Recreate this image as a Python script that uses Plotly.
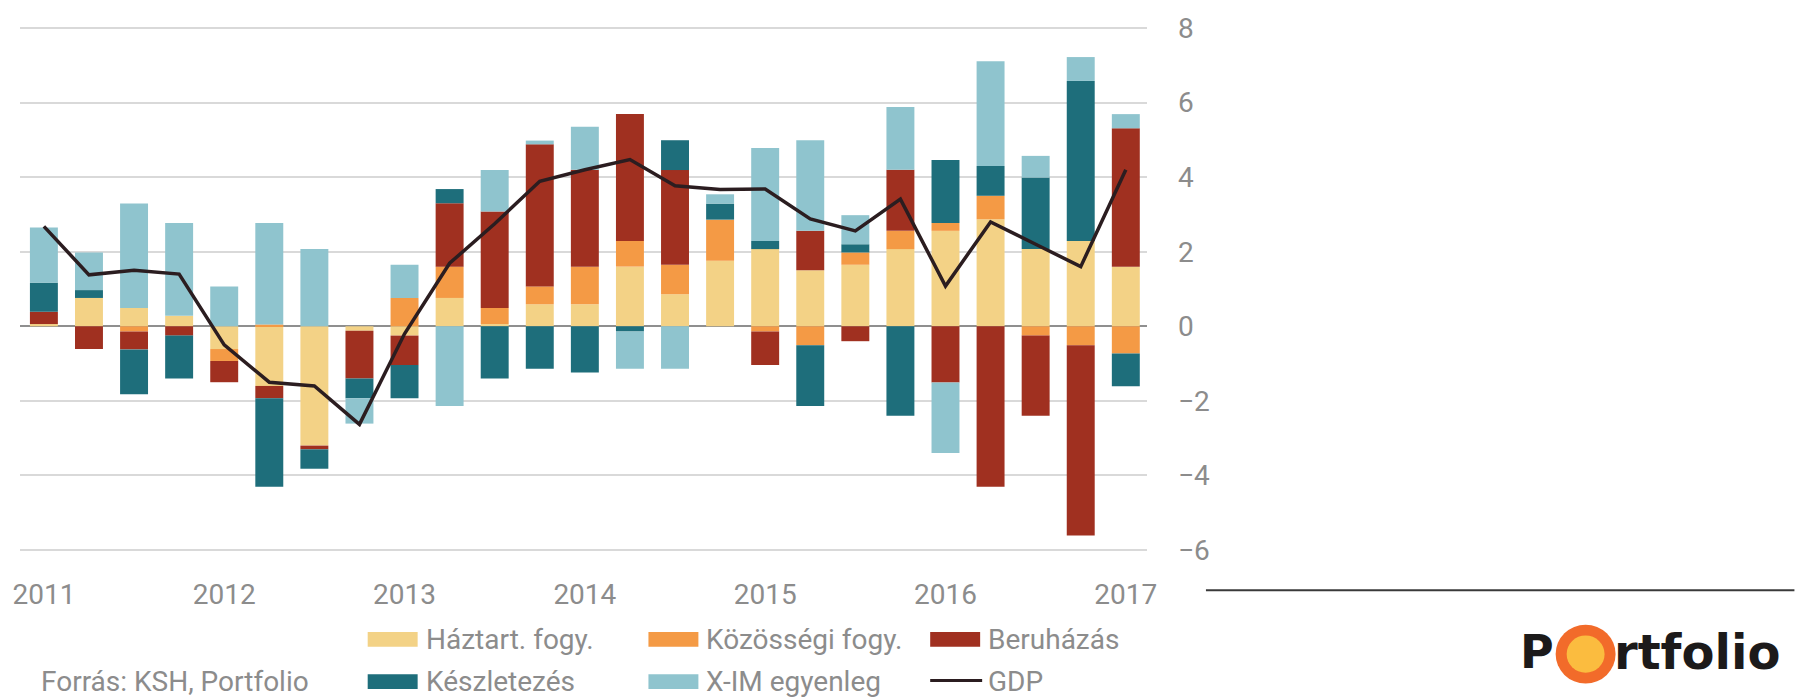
import plotly.graph_objects as go

# quarterly contributions to GDP growth, 2011 Q1 - 2017 Q1 (%-points)
quarters = list(range(25))
year_ticks = [0, 4, 8, 12, 16, 20, 24]
year_labels = ["2011", "2012", "2013", "2014", "2015", "2016", "2017"]

haztart = [0.06, 0.76, 0.49, 0.28, -0.61, -1.6, -3.2, -0.12, -0.25, 0.76, 0.06, 0.59, 0.59,
           1.6, 0.86, 1.76, 2.07, 1.5, 1.65, 2.07, 2.56, 2.87, 2.07, 2.29, 1.6]
kozossegi = [0, 0, -0.14, 0, -0.32, 0.05, 0, 0, 0.76, 0.84, 0.43, 0.48, 1.01,
             0.69, 0.79, 1.1, -0.14, -0.51, 0.33, 0.49, 0.21, 0.63, -0.25, -0.51, -0.73]
beruhazas = [0.33, -0.61, -0.48, -0.25, -0.57, -0.33, -0.1, -1.28, -0.79, 1.7, 2.59, 3.81, 2.6,
             3.4, 2.54, 0, -0.9, 1.06, -0.4, 1.64, -1.51, -4.3, -2.15, -5.1, 3.71]
keszlet = [0.78, 0.21, -1.2, -1.15, 0, -2.37, -0.52, -0.53, -0.89, 0.38, -1.4, -1.14, -1.24,
           -0.14, 0.8, 0.43, 0.22, -1.63, 0.22, -2.4, 1.69, 0.8, 1.92, 4.29, -0.88]
xim = [1.48, 1.01, 2.8, 2.49, 1.07, 2.72, 2.07, -0.68, 0.89, -2.14, 1.11, 0.1, 1.15,
       -1.0, -1.14, 0.25, 2.49, 2.43, 0.78, 1.68, -1.89, 2.81, 0.58, 0.64, 0.38]
gdp = [2.68, 1.38, 1.5, 1.4, -0.5, -1.5, -1.6, -2.63, -0.2, 1.69, 2.75, 3.89, 4.2,
       4.47, 3.77, 3.67, 3.68, 2.88, 2.56, 3.41, 1.08, 2.8, 2.2, 1.6, 4.2]

names = ["Háztart. fogy.", "Közösségi fogy.", "Beruházás", "Készletezés", "X-IM egyenleg", "GDP"]
colors = ["#f3d286", "#f49a45", "#a03020", "#1e6e7b", "#8fc4ce", "#2b1d20"]
bar_series = [haztart, kozossegi, beruhazas, keszlet, xim]

# plot area in pixels (y range padded a little so the top gridline shows)
L, R, T, B = 19, 1147, 15, 553
def px(x):
    return (x - L) / (R - L)
def py(y):
    return (B - y) / (B - T)

fig = go.Figure()
for name, vals, col in zip(names[:5], bar_series, colors[:5]):
    fig.add_trace(go.Bar(x=quarters, y=vals, name=name, marker_color=col,
                         marker_line_width=0, showlegend=False))
fig.add_trace(go.Scatter(x=quarters, y=gdp, name="GDP", mode="lines",
                         line=dict(color=colors[5], width=3.5), showlegend=False))

gray = "#8c8c8c"
fig.update_layout(
    width=1795, height=700,
    margin=dict(l=L, r=1795 - R, t=T, b=700 - B),
    barmode="relative", bargap=0.38,
    plot_bgcolor="white", paper_bgcolor="white",
    font=dict(family="Roboto", color=gray),
)
fig.update_xaxes(range=[-0.53, 24.47], tickvals=year_ticks, ticktext=year_labels,
                 showgrid=False, zeroline=False, showline=False, ticks="",
                 tickfont=dict(size=28, color=gray), ticklabelstandoff=22)
fig.update_yaxes(range=[-6.08, 8.08], dtick=2, side="right", showgrid=True, gridcolor="#d9d9d9",
                 gridwidth=2, zeroline=True, zerolinecolor="#8f8f8f", zerolinewidth=2,
                 showline=False, ticks="", tickfont=dict(size=28, color=gray),
                 ticklabelstandoff=30)

# custom legend
legend_pos = [(367, 641), (648, 641), (930, 641), (367, 684), (648, 684), (930, 684)]
shapes = []
annotations = []
for i, (name, col) in enumerate(zip(names, colors)):
    x0, yc = legend_pos[i]
    if name == "GDP":
        shapes.append(dict(type="line", xref="paper", yref="paper",
                           x0=px(x0), x1=px(x0 + 52), y0=py(yc - 1), y1=py(yc - 1),
                           line=dict(color=col, width=3)))
    else:
        shapes.append(dict(type="rect", xref="paper", yref="paper",
                           x0=px(x0), x1=px(x0 + 50), y0=py(yc + 7.5), y1=py(yc - 7.5),
                           fillcolor=col, line=dict(width=0)))
    annotations.append(dict(text=name, xref="paper", yref="paper", x=px(x0 + 56), y=py(yc),
                            xanchor="left", yanchor="middle", showarrow=False,
                            font=dict(size=28, color=gray)))

annotations.append(dict(text="Forrás: KSH, Portfolio", xref="paper", yref="paper",
                        x=px(38), y=py(684), xanchor="left", yanchor="middle",
                        showarrow=False, font=dict(size=28, color=gray)))

# separator line and logo
shapes.append(dict(type="line", xref="paper", yref="paper", x0=px(1206), x1=px(1795),
                   y0=py(591), y1=py(591), line=dict(color="#3a3a3a", width=2)))
shapes.append(dict(type="circle", xref="paper", yref="paper", x0=px(1556), x1=px(1616),
                   y0=py(686), y1=py(626), fillcolor="#f26b2a", line=dict(width=0)))
shapes.append(dict(type="circle", xref="paper", yref="paper", x0=px(1567), x1=px(1605),
                   y0=py(675), y1=py(637), fillcolor="#fbbc3f", line=dict(width=0)))
annotations.append(dict(text="<b>P</b>", xref="paper", yref="paper", x=px(1518), y=py(654),
                        xanchor="left", yanchor="middle", showarrow=False,
                        font=dict(family="DejaVu Sans", size=46, color="#1c1a1a")))
annotations.append(dict(text="<b>rtfolio</b>", xref="paper", yref="paper", x=px(1612), y=py(654),
                        xanchor="left", yanchor="middle", showarrow=False,
                        font=dict(family="DejaVu Sans", size=48, color="#1c1a1a")))

fig.update_layout(shapes=shapes, annotations=annotations)

fig.write_html("out.html", config={"displayModeBar": False},
               post_script="document.body.style.margin='0px';")
